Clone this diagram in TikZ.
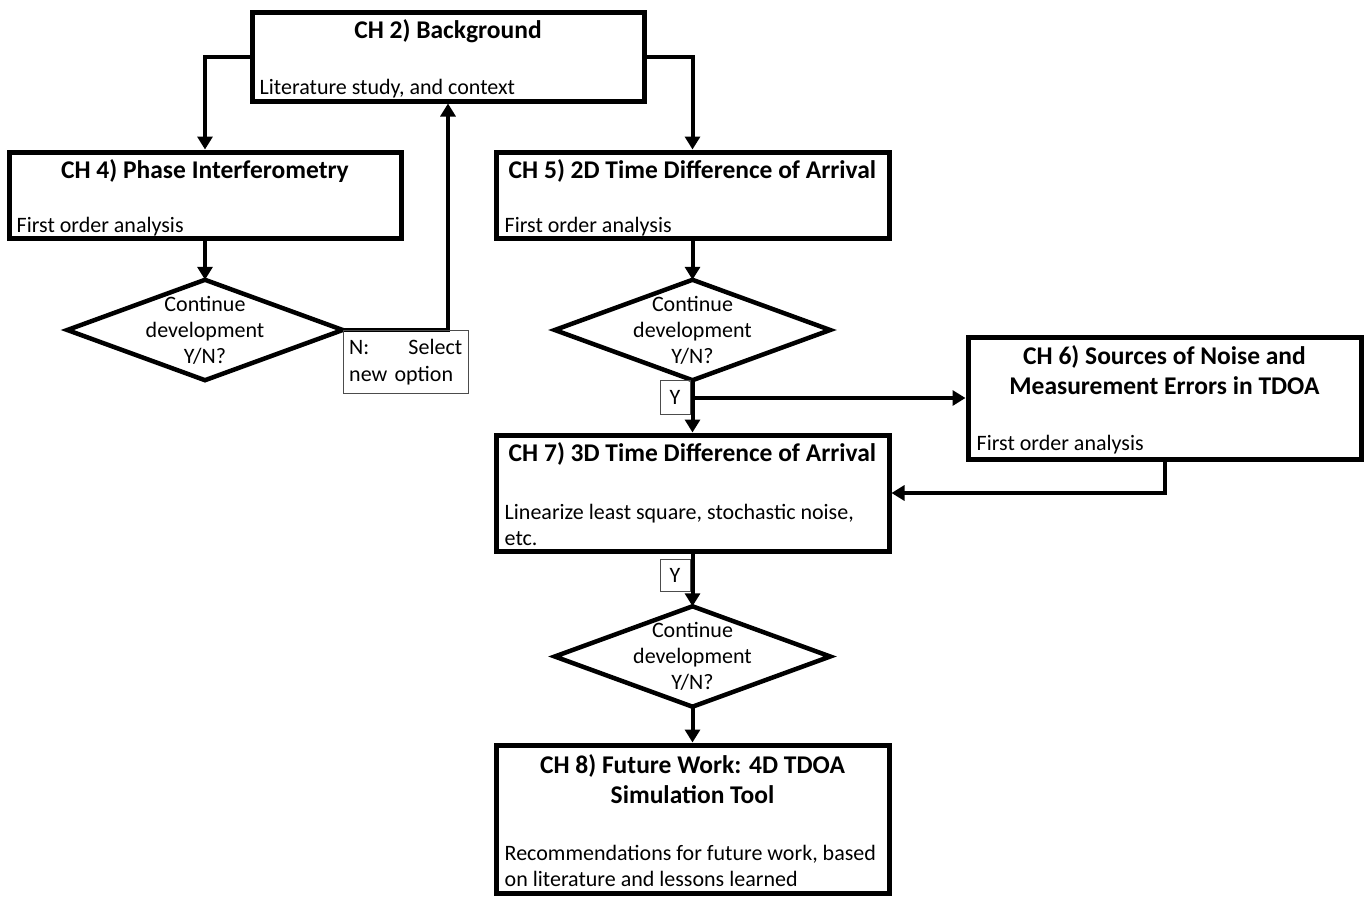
\documentclass[tikz,border=0pt]{standalone}
\usepackage{fontspec}
\setmainfont{Carlito}
\usetikzlibrary{arrows.meta}
\begin{document}
\begin{tikzpicture}[x=1pt,y=-1pt,
  chbox/.style={draw, line width=5pt, inner sep=0pt, shape=rectangle},
  ttl/.style={anchor=base, align=center, inner sep=0pt, font=\bfseries\fontsize{25.5}{30}\selectfont},
  body/.style={anchor=base west, align=left, inner sep=0pt, font=\fontsize{22}{26.5}\selectfont},
  decision/.style={shape=rectangle, inner sep=0pt, minimum width=275pt, minimum height=100pt, align=center, font=\fontsize{22}{26}\selectfont},
  diaedge/.style={line width=4.5pt, line join=miter},
  tag/.style={draw=black!70, line width=1pt, inner sep=0pt, font=\fontsize{22}{26.5}\selectfont},
  arr/.style={line width=4pt, -{Triangle[length=13pt,width=15pt]}}]
\useasboundingbox (0,0) rectangle (1369,897);

% chapter boxes (multi-line texts are anchored at the baseline of their last line)
\node[chbox, minimum width=392pt, minimum height=89pt] (ch2) at (448,56.5) {};
\node[ttl] at ([yshift=-29pt]ch2.north) {CH 2) Background};
\node[body] at ([xshift=10pt,yshift=9pt]ch2.south west) {Literature study, and context};

\node[chbox, minimum width=392pt, minimum height=86pt] (ch4) at (205,195) {};
\node[ttl] at ([yshift=-29pt]ch4.north) {CH 4) Phase Interferometry};
\node[body] at ([xshift=10pt,yshift=8pt]ch4.south west) {First order analysis};

\node[chbox, minimum width=393pt, minimum height=86pt] (ch5) at (692.5,195) {};
\node[ttl] at ([yshift=-29pt]ch5.north) {CH 5) 2D Time Difference of Arrival};
\node[body] at ([xshift=11pt,yshift=8pt]ch5.south west) {First order analysis};

\node[chbox, minimum width=393pt, minimum height=122pt] (ch6) at (1164.5,398) {};
\node[ttl] at ([yshift=-60pt]ch6.north) {CH 6) Sources of Noise and\\Measurement Errors in TDOA};
\node[body] at ([xshift=11pt,yshift=11pt]ch6.south west) {First order analysis};

\node[chbox, minimum width=393pt, minimum height=116pt] (ch7) at (692.5,493) {};
\node[ttl] at ([yshift=-29pt]ch7.north) {CH 7) 3D Time Difference of Arrival};
\node[body] at ([xshift=11pt,yshift=8pt]ch7.south west) {Linearize least square, stochastic noise,\\etc.};

\node[chbox, minimum width=393pt, minimum height=148pt] (ch8) at (692.5,819) {};
\node[ttl] at ([yshift=-61pt]ch8.north) {CH 8) Future Work: 4D TDOA\\Simulation Tool};
\node[body] at ([xshift=11pt,yshift=9pt]ch8.south west) {Recommendations for future work, based\\on literature and lessons learned};

% decisions
\node[decision] (d1) at (205,330) {Continue\\development\\Y/N?};
\node[decision] (d2) at (692.5,330) {Continue\\development\\Y/N?};
\node[decision] (d3) at (692.5,656.5) {Continue\\development\\Y/N?};
\foreach \d in {d1,d2,d3}
  \draw[diaedge] (\d.north) -- (\d.east) -- (\d.south) -- (\d.west) -- cycle;

% connectors
\draw[arr] (ch2.west) -| (ch4.north);
\draw[arr] (ch2.east) -| (ch5.north);
\draw[arr] (ch4.south) -- (d1.north);
\draw[arr] (ch5.south) -- (d2.north);
\draw[arr] (d1.east) -| (ch2.south);
\draw[arr] (d2.south) -- (ch7.north);
\draw[arr] (d2.south |- ch6.west) -- (ch6.west);
\draw[arr] (ch6.south) |- (ch7.east);
\draw[arr] (ch7.south) -- (d3.north);
\draw[arr] (d3.south) -- (ch8.north);

% branch labels
\node[tag, anchor=north west, minimum width=125pt, minimum height=63pt, text width=113pt, align=left] (nsel) at (d1.east) {N:\hfill Select\\new option};
\node[tag, anchor=north east, minimum width=30pt, minimum height=34pt] (y1) at ([xshift=-2pt]d2.south) {Y};
\node[tag, anchor=north east, minimum width=30pt, minimum height=32pt] (y2) at ([xshift=-2pt,yshift=-5pt]ch7.south) {Y};
\end{tikzpicture}
\end{document}
